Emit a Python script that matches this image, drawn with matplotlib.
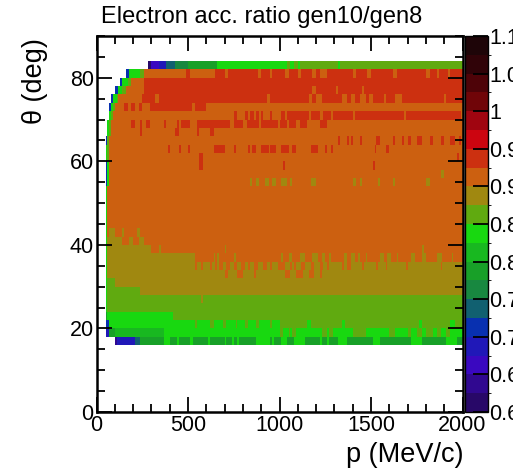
import numpy as np
import matplotlib
matplotlib.use('Agg')
import matplotlib.pyplot as plt
from matplotlib.colors import ListedColormap, BoundaryNorm
from matplotlib.ticker import MultipleLocator

# ---------------- data ----------------
level_edges = np.linspace(0.6, 1.1, 21)
level_colors = ['#280868', '#300890', '#3a08c0', '#2018b8', '#0830b0',
                '#116070', '#188840', '#18a028', '#18b820', '#18d810',
                '#60aa10', '#a08810', '#cc6010', '#cc3010', '#cc0510',
                '#a00510', '#700508', '#4e0308', '#300308', '#1e0508']
cbar_ticks = [0.6, 0.65, 0.7, 0.75, 0.8, 0.85, 0.9, 0.95, 1.0, 1.05, 1.1]
cbar_labels = ['0.6', '0.65', '0.7', '0.75', '0.8', '0.85', '0.9', '0.95', '1', '1.05', '1.1']

p_edges = np.arange(0, 2001, 10)          # MeV/c
theta_edges = np.arange(16, 85, 2)        # deg
row_theta = theta_edges[:-1]              # lower edge of each theta row
# first p with acceptance in each theta row
row_start = [98, 55, 50, 50, 50, 50, 50, 50, 50, 50, 50, 50, 50, 50, 50, 50, 50,
             50, 50, 50, 50, 52, 52, 53, 55, 57, 60, 68, 76, 82, 105, 127, 160, 277]
# dominant ratio in each theta row
row_base = [0.79, 0.84, 0.84, 0.86, 0.86, 0.86, 0.89, 0.89, 0.89, 0.89,
            0.91, 0.91, 0.91, 0.91, 0.91, 0.91, 0.91, 0.91, 0.91, 0.91,
            0.91, 0.91, 0.91, 0.91, 0.91, 0.91, 0.91, 0.91, 0.91,
            0.94, 0.94, 0.94, 0.94, 0.86]

# (theta row lower edge, p from, p to, ratio): low-p edge region
edge_segments = [
    (16, 98, 110, 0.64), (16, 110, 213, 0.69), (16, 213, 236, 0.74),
    (18, 55, 75, 0.69), (18, 75, 100, 0.79), (18, 100, 370, 0.81),
    (20, 50, 72, 0.71), (20, 1000, 2000, 0.86),
    (22, 50, 60, 0.79), (22, 60, 420, 0.84),
    (24, 50, 60, 0.84), (26, 50, 60, 0.84),
    (28, 50, 60, 0.84), (28, 60, 240, 0.86),
    (30, 50, 60, 0.84), (30, 60, 100, 0.86),
    (32, 50, 60, 0.84), (34, 50, 60, 0.84),
    (36, 50, 60, 0.84), (36, 60, 540, 0.89),
    (38, 50, 60, 0.84), (38, 60, 300, 0.89),
    (40, 50, 58, 0.84), (40, 58, 145, 0.89), (40, 180, 200, 0.89), (40, 227, 263, 0.89),
    (42, 50, 58, 0.84), (42, 72, 100, 0.89), (42, 136, 154, 0.89), (42, 218, 236, 0.89),
    (44, 50, 58, 0.84), (46, 50, 58, 0.84), (48, 50, 58, 0.84), (50, 50, 58, 0.84),
    (52, 50, 58, 0.84),
    (54, 50, 58, 0.71), (54, 58, 68, 0.84), (56, 50, 58, 0.71), (56, 58, 68, 0.84),
    (58, 52, 58, 0.71), (58, 58, 68, 0.84),
    (60, 52, 60, 0.84), (60, 60, 68, 0.86),
    (62, 53, 62, 0.84), (62, 62, 70, 0.86),
    (64, 55, 58, 0.71), (64, 58, 65, 0.84), (64, 65, 75, 0.86),
    (66, 57, 70, 0.84), (66, 70, 80, 0.86),
    (68, 60, 64, 0.71), (68, 64, 75, 0.84), (68, 75, 85, 0.86),
    (70, 68, 72, 0.71), (70, 72, 82, 0.84), (70, 82, 92, 0.86),
    (72, 76, 82, 0.71), (72, 82, 95, 0.84), (72, 95, 105, 0.86),
    (74, 82, 92, 0.71), (74, 92, 110, 0.84), (74, 110, 125, 0.86), (74, 125, 255, 0.91),
    (76, 105, 118, 0.71), (76, 118, 145, 0.84), (76, 145, 163, 0.86), (76, 163, 263, 0.91),
    (78, 127, 140, 0.71), (78, 140, 172, 0.84), (78, 172, 190, 0.86), (78, 190, 263, 0.91),
    (80, 160, 182, 0.71), (80, 182, 240, 0.84), (80, 240, 258, 0.86), (80, 258, 640, 0.91),
    (82, 277, 304, 0.61), (82, 304, 340, 0.66), (82, 340, 377, 0.69), (82, 377, 432, 0.74),
    (82, 432, 500, 0.76), (82, 500, 665, 0.79), (82, 665, 1000, 0.84),
]

# (theta row lower edge, p from, p to, ratio): isolated patches
speckles = [
    (16, 373, 400, 0.84), (16, 436, 455, 0.84), (16, 510, 527, 0.84), (16, 610, 620, 0.84),
    (16, 700, 710, 0.84), (16, 737, 746, 0.84), (16, 773, 783, 0.84), (16, 874, 946, 0.84),
    (16, 956, 974, 0.84), (16, 1010, 1037, 0.84), (16, 1083, 1138, 0.84), (16, 1220, 1229, 0.84),
    (16, 1256, 1275, 0.84), (16, 1320, 1366, 0.84), (16, 1512, 1548, 0.84), (16, 1721, 1785, 0.84),
    (16, 1913, 1967, 0.84),
    (18, 1002, 1020, 0.86), (18, 1047, 1065, 0.86), (18, 1075, 1093, 0.86), (18, 1230, 1256, 0.86),
    (18, 1266, 1293, 0.86), (18, 1403, 1475, 0.86), (18, 1603, 1630, 0.86), (18, 1703, 1721, 0.86),
    (18, 1749, 1776, 0.86), (18, 1803, 1840, 0.86), (18, 1858, 1876, 0.86), (18, 1913, 1931, 0.86),
    (20, 537, 555, 0.86), (20, 619, 637, 0.86), (20, 691, 710, 0.86), (20, 764, 774, 0.86),
    (20, 810, 828, 0.86), (20, 874, 892, 0.86), (20, 946, 965, 0.86),
    (20, 1148, 1166, 0.84), (20, 1339, 1357, 0.84), (20, 1757, 1776, 0.84), (20, 1931, 1958, 0.84),
    (26, 573, 582, 0.89),
    (32, 701, 719, 0.91), (32, 774, 801, 0.91), (32, 856, 874, 0.91), (32, 1029, 1065, 0.91),
    (32, 1092, 1129, 0.91), (32, 1165, 1193, 0.91), (32, 1220, 1229, 0.91),
    (34, 537, 546, 0.91), (34, 573, 582, 0.91), (34, 619, 628, 0.91), (34, 646, 655, 0.91),
    (34, 674, 692, 0.91), (34, 710, 728, 0.91), (34, 755, 774, 0.91), (34, 792, 810, 0.91),
    (34, 828, 837, 0.91), (34, 865, 883, 0.91), (34, 910, 928, 0.91), (34, 947, 965, 0.91),
    (34, 992, 1029, 0.91), (34, 1056, 1065, 0.91), (34, 1083, 1092, 0.91), (34, 1120, 1138, 0.91),
    (34, 1174, 1193, 0.91), (34, 1220, 1238, 0.91), (34, 1256, 1275, 0.91),
    (34, 1339, 1348, 0.91), (34, 1375, 1394, 0.91), (34, 1448, 1457, 0.91), (34, 1530, 1539, 0.91),
    (34, 1585, 1594, 0.91), (34, 1694, 1703, 0.91), (34, 1876, 1885, 0.91),
    (36, 637, 655, 0.89), (36, 664, 674, 0.89), (36, 755, 765, 0.89), (36, 1011, 1020, 0.89),
    (36, 1048, 1066, 0.89), (36, 1111, 1139, 0.89), (36, 1184, 1211, 0.89), (36, 1230, 1248, 0.89),
    (36, 1275, 1284, 0.89), (36, 1348, 1366, 0.89), (36, 1393, 1412, 0.89), (36, 1430, 1439, 0.89),
    (36, 1475, 1485, 0.89), (36, 1548, 1566, 0.89), (36, 1594, 1612, 0.89), (36, 1639, 1648, 0.89),
    (36, 1721, 1740, 0.89), (36, 1785, 1803, 0.89), (36, 1858, 1894, 0.89), (36, 1940, 1949, 0.89),
    (38, 337, 346, 0.89), (38, 700, 710, 0.89), (38, 1776, 1795, 0.89),
    (54, 837, 855, 0.89), (54, 874, 892, 0.89), (54, 919, 937, 0.89), (54, 965, 983, 0.89),
    (54, 1011, 1042, 0.89), (54, 1057, 1074, 0.89), (54, 1174, 1202, 0.89), (54, 1403, 1417, 0.89),
    (54, 1443, 1454, 0.89), (54, 1539, 1552, 0.89), (54, 1617, 1630, 0.89), (54, 1803, 1821, 0.89),
    (56, 1885, 1903, 0.89),
    (58, 564, 577, 0.94), (58, 1017, 1027, 0.94), (58, 1508, 1521, 0.94),
    (60, 564, 582, 0.94), (60, 1967, 1985, 0.94),
    (62, 391, 404, 0.94), (62, 446, 455, 0.94), (62, 505, 513, 0.94), (62, 643, 701, 0.94),
    (62, 746, 764, 0.94), (62, 828, 841, 0.94), (62, 850, 874, 0.94), (62, 901, 937, 0.94),
    (62, 947, 983, 0.94), (62, 1010, 1047, 0.94), (62, 1074, 1093, 0.94), (62, 1171, 1211, 0.94),
    (62, 1247, 1262, 0.94), (62, 1284, 1293, 0.94), (62, 1521, 1530, 0.94), (62, 1585, 1603, 0.94),
    (64, 1321, 1335, 0.94), (64, 1366, 1379, 0.94), (64, 1394, 1403, 0.94), (64, 1439, 1448, 0.94),
    (64, 1530, 1548, 0.94), (64, 1621, 1630, 0.94), (64, 1667, 1676, 0.94), (64, 1703, 1721, 0.94),
    (64, 1749, 1776, 0.94), (64, 1821, 1840, 0.94), (64, 1885, 1903, 0.94), (64, 1931, 1940, 0.94),
    (64, 1945, 1962, 0.94), (64, 1985, 1994, 0.94),
    (66, 236, 254, 0.94), (66, 427, 446, 0.94), (66, 546, 564, 0.94), (66, 619, 637, 0.94),
    (68, 191, 209, 0.94), (68, 245, 254, 0.94), (68, 273, 291, 0.94), (68, 373, 382, 0.94),
    (68, 436, 446, 0.94), (68, 464, 509, 0.94), (68, 546, 728, 0.94), (68, 746, 801, 0.94),
    (68, 819, 892, 0.94), (68, 901, 992, 0.94), (68, 1001, 1037, 0.94), (68, 1047, 1093, 0.94),
    (68, 1111, 1148, 0.94), (68, 1220, 1265, 0.94),
    (70, 755, 774, 0.94), (70, 810, 828, 0.94), (70, 837, 856, 0.94), (70, 874, 892, 0.94),
    (70, 901, 910, 0.94), (70, 947, 965, 0.94), (70, 1010, 1029, 0.94), (70, 1038, 1165, 0.94),
    (70, 1174, 1221, 0.94), (70, 1238, 1284, 0.94), (70, 1293, 1403, 0.94), (70, 1412, 1676, 0.94),
    (70, 1694, 1994, 0.94),
    (72, 154, 172, 0.94), (72, 191, 209, 0.94), (72, 227, 254, 0.94), (72, 291, 518, 0.94),
    (72, 537, 601, 0.94),
    (74, 318, 336, 0.91), (74, 934, 947, 0.91), (74, 1156, 1184, 0.91), (74, 1202, 1230, 0.91),
    (74, 1339, 1366, 0.91), (74, 1393, 1412, 0.91), (74, 1439, 1475, 0.91), (74, 1494, 1512, 0.91),
    (74, 1566, 1585, 0.91), (74, 1630, 1667, 0.91), (74, 1900, 1910, 0.91),
    (76, 1184, 1203, 0.91), (76, 1312, 1321, 0.91), (76, 1448, 1457, 0.91),
    (80, 491, 509, 0.94), (80, 637, 655, 0.91), (80, 701, 719, 0.91), (80, 883, 901, 0.91),
    (80, 947, 965, 0.91), (80, 1028, 1047, 0.91), (80, 1101, 1120, 0.91), (80, 1183, 1202, 0.91),
    (80, 1220, 1256, 0.91), (80, 1400, 1420, 0.91), (80, 1480, 1500, 0.91), (80, 1620, 1640, 0.91),
    (80, 1800, 1820, 0.91), (80, 1860, 1870, 0.91), (80, 1920, 1930, 0.91),
    (82, 1002, 1040, 0.84), (82, 1060, 1080, 0.84), (82, 1100, 1115, 0.84), (82, 1320, 1330, 0.84),
]

# ---------------- build histogram ----------------
p_cent = 0.5 * (p_edges[:-1] + p_edges[1:])
Z = np.full((len(row_theta), len(p_cent)), np.nan)
row_index = {int(t): i for i, t in enumerate(row_theta)}


def paint(theta, p0, p1, val):
    i = row_index[theta]
    sel = (p_cent >= p0) & (p_cent < p1)
    if not sel.any():
        sel = np.zeros(len(p_cent), dtype=bool)
        sel[min(int(0.5 * (p0 + p1) // 10), len(p_cent) - 1)] = True
    Z[i, sel] = val


for t, s, b in zip(row_theta, row_start, row_base):
    Z[row_index[int(t)], p_cent >= s] = b
for seg in edge_segments + speckles:
    paint(*seg)

# ---------------- draw ----------------
plt.rcParams['font.family'] = ['Liberation Sans', 'DejaVu Sans']
W, H = 513, 476
fig = plt.figure(figsize=(W / 100, H / 100), dpi=100)
ax = fig.add_axes([96.5 / W, (H - 412) / H, 366 / W, 376 / H])
cax = fig.add_axes([465 / W, (H - 412) / H, 23 / W, 376 / H])

cmap = ListedColormap(level_colors)
norm = BoundaryNorm(level_edges, cmap.N)
mesh = ax.pcolormesh(p_edges, theta_edges, np.ma.masked_invalid(Z), cmap=cmap, norm=norm)
ax.set_xlim(0, 2000)
ax.set_ylim(0, 90)
ax.set_xticks([0, 500, 1000, 1500, 2000])
ax.set_yticks([0, 20, 40, 60, 80])
ax.xaxis.set_minor_locator(MultipleLocator(100))
ax.yaxis.set_minor_locator(MultipleLocator(5))
ax.tick_params(which='both', direction='in', top=True, right=True, width=1.3, labelsize=15.5, pad=2)
ax.tick_params(which='major', length=11)
ax.tick_params(which='minor', length=6)
for sp in ax.spines.values():
    sp.set_linewidth(1.8)

cb = fig.colorbar(mesh, cax=cax, ticks=cbar_ticks)
cb.ax.set_yticklabels(cbar_labels)
cb.ax.tick_params(direction='in', length=11, width=1.3, labelsize=15.5, pad=1)
cb.outline.set_linewidth(1.0)

fig.text(262 / W, 1 - 17 / H, 'Electron acc. ratio gen10/gen8', ha='center', va='center', fontsize=17)
fig.text(463 / W, 1 - 455 / H, 'p (MeV/c)', ha='right', va='center', fontsize=19.5)
fig.text(35 / W, 1 - 38 / H, 'θ (deg)', ha='center', va='top', rotation=90, fontsize=19.5)

fig.savefig('out.png', dpi=100)
